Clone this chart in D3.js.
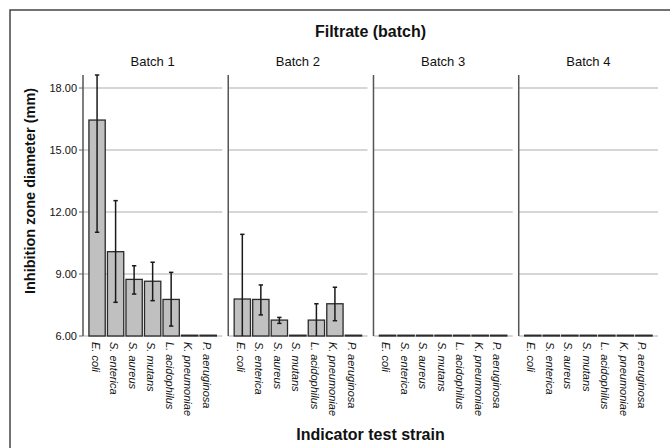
<!DOCTYPE html>
<html>
<head>
<meta charset="utf-8">
<script src="https://cdn.jsdelivr.net/npm/d3@7"></script>
<style>
  body { margin: 0; background: #fff; }
  text { font-family: Arial, "Liberation Sans", sans-serif; fill: #111; }
</style>
</head>
<body>
<svg id="chart" width="670" height="448"></svg>
<script>
// strains on the x axis of every panel
const strains = ["E. coli", "S. enterica", "S. aureus", "S. mutans", "L. acidophilus", "K. pneumoniae", "P. aeruginosa"];
const batches = ["Batch 1", "Batch 2", "Batch 3", "Batch 4"];
const yTicks = [6, 9, 12, 15, 18];

// mean inhibition zone (mm), one array per batch (6.00 = no zone)
const batch1Mean = [16.45, 10.08, 8.74, 8.65, 7.77, 6.0, 6.0];
const batch2Mean = [7.79, 7.77, 6.77, 6.0, 6.77, 7.56, 6.0];
const batch3Mean = [6.0, 6.0, 6.0, 6.0, 6.0, 6.0, 6.0];
const batch4Mean = [6.0, 6.0, 6.0, 6.0, 6.0, 6.0, 6.0];

// error bar ends (low / high), null where there is no bar
const batch1Low  = [11.02, 7.63, 8.03, 7.71, 6.48, null, null];
const batch1High = [18.67, 12.55, 9.40, 9.57, 9.08, null, null];
const batch2Low  = [4.66, 7.02, 6.61, null, 5.98, 6.74, null];
const batch2High = [10.92, 8.47, 6.90, null, 7.56, 8.36, null];

const means = [batch1Mean, batch2Mean, batch3Mean, batch4Mean];
const lows  = [batch1Low, batch2Low, null, null];
const highs = [batch1High, batch2High, null, null];

const svg = d3.select("#chart");

// outer frame (runs off the right and bottom of the picture)
svg.append("rect")
  .attr("x", 10).attr("y", 10)
  .attr("width", 720).attr("height", 520)
  .attr("fill", "none").attr("stroke", "#444").attr("stroke-width", 1.5);

const plotTop = 75, plotBottom = 336;
const y = d3.scaleLinear().domain([6, 18.63]).range([plotBottom, plotTop]).clamp(true);

const panel = d3.scaleBand().domain(batches).range([83, 658]).paddingInner(0.041);

// chart title
svg.append("text")
  .attr("x", 370.5).attr("y", 37)
  .attr("text-anchor", "middle")
  .style("font-size", "16px").style("font-weight", "bold")
  .text("Filtrate (batch)");

// y axis title
svg.append("text")
  .attr("transform", "translate(35,191) rotate(-90)")
  .attr("text-anchor", "middle")
  .style("font-size", "14.5px").style("font-weight", "bold")
  .text("Inhibition zone diameter (mm)");

// x axis title
svg.append("text")
  .attr("x", 370.5).attr("y", 440)
  .attr("text-anchor", "middle")
  .style("font-size", "16px").style("font-weight", "bold")
  .text("Indicator test strain");

// y tick labels + little ticks on the first panel
const yAxis = svg.append("g");
yTicks.forEach(t => {
  yAxis.append("text")
    .attr("x", 77).attr("y", y(t))
    .attr("dy", "0.35em")
    .attr("text-anchor", "end")
    .style("font-size", "11px")
    .text(t.toFixed(2));
  yAxis.append("line")
    .attr("x1", 79).attr("x2", 83)
    .attr("y1", y(t)).attr("y2", y(t))
    .attr("stroke", "#666").attr("stroke-width", 1);
});

batches.forEach((b, i) => {
  const x0 = panel(b);
  const w = panel.bandwidth();
  const x = d3.scaleBand().domain(strains).range([x0, x0 + w])
    .paddingInner(0.12).paddingOuter(0.32);
  const g = svg.append("g");

  // panel label
  g.append("text")
    .attr("x", x0 + w / 2).attr("y", 66)
    .attr("text-anchor", "middle")
    .style("font-size", "13px")
    .text(b);

  // grid lines
  g.selectAll(".grid")
    .data(yTicks)
    .enter().append("line")
    .attr("x1", x0).attr("x2", x0 + w)
    .attr("y1", d => y(d)).attr("y2", d => y(d))
    .attr("stroke", "#c8c8c8").attr("stroke-width", 1.5);

  // panel axis line
  g.append("line")
    .attr("x1", x0).attr("x2", x0)
    .attr("y1", plotTop).attr("y2", plotBottom)
    .attr("stroke", "#555").attr("stroke-width", 1.5);

  // bars (no-zone bars still get a thin outline at the baseline)
  g.selectAll(".bar")
    .data(strains)
    .enter().append("rect")
    .attr("x", d => x(d))
    .attr("width", x.bandwidth())
    .attr("y", (d, j) => Math.min(y(means[i][j]), plotBottom - 0.8))
    .attr("height", (d, j) => Math.max(0.8, plotBottom - y(means[i][j])))
    .attr("fill", "#c0c0c0")
    .attr("stroke", "#2a2a2a").attr("stroke-width", 1.3);

  // error bars
  if (lows[i]) {
    strains.forEach((s, j) => {
      const lo = lows[i][j], hi = highs[i][j];
      if (lo === null) return;
      const cx = x(s) + x.bandwidth() / 2;
      g.append("line")
        .attr("x1", cx).attr("x2", cx)
        .attr("y1", y(lo)).attr("y2", y(hi))
        .attr("stroke", "#1a1a1a").attr("stroke-width", 1.5);
      [hi, lo].forEach(v => {
        if (v < 6) return;
        g.append("line")
          .attr("x1", cx - 2.2).attr("x2", cx + 2.2)
          .attr("y1", y(v)).attr("y2", y(v))
          .attr("stroke", "#1a1a1a").attr("stroke-width", 1.5);
      });
    });
  }

  // rotated strain labels
  g.selectAll(".lab")
    .data(strains)
    .enter().append("text")
    .attr("transform", d => "translate(" + (x(d) + x.bandwidth() / 2) + ",342) rotate(90)")
    .attr("dy", "0.5em")
    .style("font-size", "11px")
    .style("font-style", "italic")
    .text(d => d);
});
</script>
</body>
</html>
